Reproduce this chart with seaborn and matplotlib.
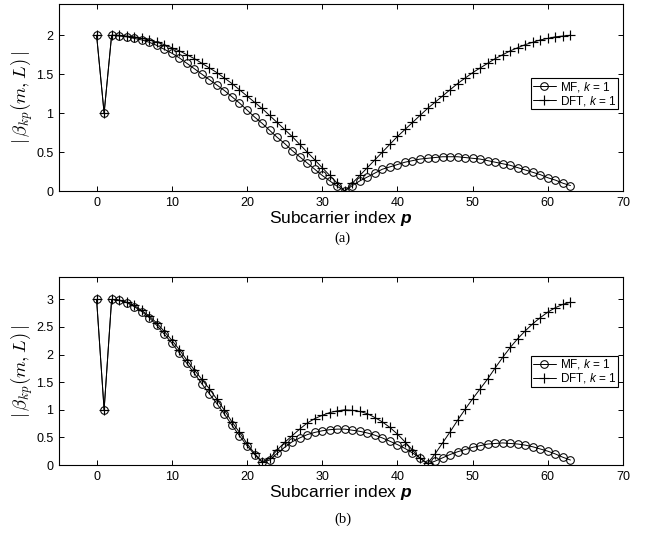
import numpy as np
import pandas as pd
import matplotlib
matplotlib.use("Agg")
import matplotlib.pyplot as plt
import seaborn as sns
from matplotlib.ticker import FuncFormatter

# === 1. Data ===
p = list(range(64))

# (a) k = 1, first case
mf_a = [2.00, 1.00, 2.00, 1.99, 1.98, 1.96, 1.94, 1.91, 1.87, 1.82,
        1.77, 1.71, 1.64, 1.57, 1.50, 1.43, 1.36, 1.29, 1.21, 1.13,
        1.04, 0.95, 0.87, 0.78, 0.69, 0.61, 0.52, 0.44, 0.36, 0.28,
        0.20, 0.13, 0.06, 0.00, 0.07, 0.13, 0.18, 0.23, 0.28, 0.31,
        0.34, 0.37, 0.39, 0.41, 0.42, 0.43, 0.44, 0.44, 0.44, 0.43,
        0.42, 0.41, 0.39, 0.37, 0.35, 0.33, 0.30, 0.27, 0.24, 0.21,
        0.17, 0.14, 0.10, 0.07]
dft_a = [2.00, 1.00, 2.00, 2.00, 1.99, 1.98, 1.96, 1.94, 1.91, 1.88,
         1.84, 1.80, 1.75, 1.70, 1.64, 1.58, 1.52, 1.45, 1.38, 1.30,
         1.22, 1.14, 1.06, 0.97, 0.88, 0.79, 0.70, 0.60, 0.50, 0.40,
         0.30, 0.20, 0.10, 0.00, 0.10, 0.20, 0.30, 0.40, 0.50, 0.60,
         0.70, 0.79, 0.88, 0.97, 1.06, 1.14, 1.22, 1.30, 1.38, 1.45,
         1.52, 1.58, 1.64, 1.70, 1.75, 1.80, 1.84, 1.88, 1.91, 1.94,
         1.96, 1.98, 1.99, 2.00]

# (b) k = 1, second case
mf_b = [3.00, 1.00, 3.00, 2.98, 2.94, 2.87, 2.78, 2.67, 2.53, 2.37,
        2.21, 2.03, 1.84, 1.66, 1.47, 1.29, 1.11, 0.92, 0.72, 0.53,
        0.35, 0.19, 0.05, 0.09, 0.21, 0.32, 0.42, 0.49, 0.55, 0.59,
        0.62, 0.64, 0.65, 0.65, 0.63, 0.61, 0.58, 0.54, 0.49, 0.43,
        0.37, 0.30, 0.22, 0.13, 0.02, 0.07, 0.13, 0.19, 0.24, 0.28,
        0.32, 0.35, 0.38, 0.39, 0.40, 0.39, 0.38, 0.36, 0.33, 0.29,
        0.25, 0.20, 0.14, 0.09]
dft_b = [3.00, 1.00, 3.00, 2.99, 2.95, 2.89, 2.80, 2.70, 2.57, 2.42,
         2.26, 2.09, 1.90, 1.72, 1.55, 1.38, 1.19, 0.99, 0.78, 0.59,
         0.39, 0.21, 0.06, 0.12, 0.27, 0.41, 0.53, 0.65, 0.76, 0.84,
         0.90, 0.95, 0.98, 1.00, 0.99, 0.97, 0.93, 0.86, 0.78, 0.68,
         0.56, 0.42, 0.27, 0.12, 0.03, 0.20, 0.40, 0.60, 0.81, 1.01,
         1.20, 1.38, 1.56, 1.76, 1.95, 2.13, 2.29, 2.43, 2.56, 2.67,
         2.77, 2.85, 2.91, 2.95]

x_ticks = [0, 10, 20, 30, 40, 50, 60, 70]
panel_labels = ["(a)", "(b)"]

# === 2. Style ===
sns.set_style("ticks")
plt.rcParams["font.family"] = ["Liberation Sans", "DejaVu Sans"]
plt.rcParams["mathtext.fontset"] = "cm"
# sans fonts for the bold-italic p and the italic k in the legend
plt.rcParams["mathtext.it"] = "Liberation Sans:italic"
plt.rcParams["mathtext.bfit"] = "Liberation Sans:italic:bold"
plt.rcParams["mathtext.rm"] = "Liberation Sans"
plt.rcParams["axes.linewidth"] = 0.8
plt.rcParams["axes.edgecolor"] = "black"
plt.rcParams["axes.labelcolor"] = "black"
plt.rcParams["text.color"] = "black"
plt.rcParams["xtick.color"] = "black"
plt.rcParams["ytick.color"] = "black"

fig = plt.figure(figsize=(6.59, 5.34), dpi=100)
ax_a = fig.add_axes([0.0895, 0.6423, 0.856, 0.350])
ax_b = fig.add_axes([0.0895, 0.1292, 0.856, 0.3515])

panels = [
    (ax_a, mf_a, dft_a, 2.4, [0, 0.5, 1, 1.5, 2], 0.52),
    (ax_b, mf_b, dft_b, 3.4, [0, 0.5, 1, 1.5, 2, 2.5, 3], 0.50),
]

fmt = FuncFormatter(lambda v, pos: f"{v:g}")

for i, (ax, mf, dft, ytop, yticks, leg_y) in enumerate(panels):
    df = pd.DataFrame({"p": p, "MF": mf, "DFT": dft})
    sns.lineplot(data=df, x="p", y="MF", ax=ax, color="black", lw=0.7,
                 marker="o", markersize=5.5, markerfacecolor="none",
                 markeredgecolor="black", markeredgewidth=0.75,
                 label=r"MF, $k$ = 1")
    sns.lineplot(data=df, x="p", y="DFT", ax=ax, color="black", lw=0.7,
                 marker="+", markersize=6.5, markeredgecolor="black",
                 markeredgewidth=0.85, label=r"DFT, $k$ = 1")

    ax.set_xlim(-5, 70)
    ax.set_ylim(0, ytop)
    ax.set_xticks(x_ticks)
    ax.set_yticks(yticks)
    ax.yaxis.set_major_formatter(fmt)
    ax.tick_params(direction="in", top=True, right=True, length=3.5,
                   width=0.7, labelsize=9, pad=4, colors="black")
    for s in ax.spines.values():
        s.set_visible(True)
        s.set_color("black")

    ax.set_xlabel(r"Subcarrier index $\mathbfit{p}$", fontsize=12.5,
                  labelpad=0, math_fontfamily="custom", color="black")
    ax.set_ylabel(r"$|\,\beta_{kp}(m,L)\,|$", fontsize=13.5, labelpad=1,
                  math_fontfamily="cm", color="black")

    leg = ax.legend(loc="center right", bbox_to_anchor=(0.995, leg_y),
                    fontsize=8.5, frameon=True, fancybox=False,
                    edgecolor="black", framealpha=1, borderpad=0.12,
                    handlelength=2.0, handletextpad=0.3, labelspacing=0.0,
                    borderaxespad=0.2)
    leg.get_frame().set_linewidth(0.8)
    for t in leg.get_texts():
        t.set_math_fontfamily("custom")
        t.set_color("black")

fig.text(0.52, 1 - 238 / 534, panel_labels[0], ha="center", va="center",
         fontsize=10.5, family="Liberation Serif")
fig.text(0.52, 1 - 519 / 534, panel_labels[1], ha="center", va="center",
         fontsize=10.5, family="Liberation Serif")

fig.savefig("out.png", dpi=100)
